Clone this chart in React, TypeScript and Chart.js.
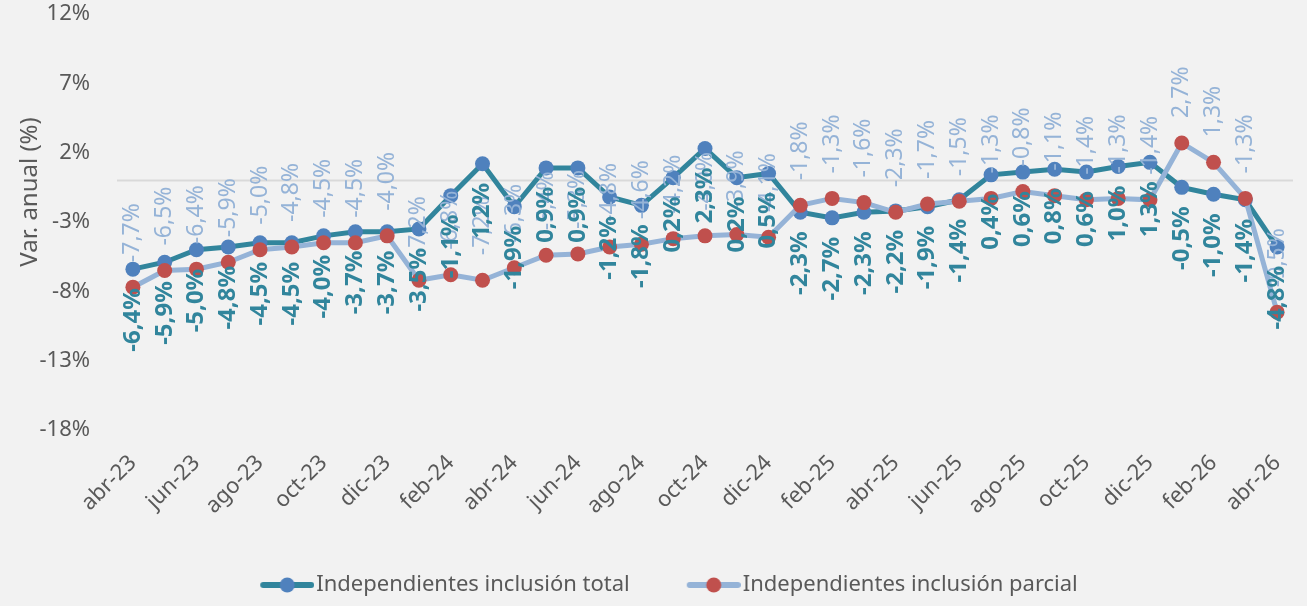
import React, { useEffect, useRef } from "react";
import { Chart, registerables } from "chart.js";

Chart.register(...registerables);

const months = [
  "abr-23", "may-23", "jun-23", "jul-23", "ago-23", "sep-23", "oct-23", "nov-23", "dic-23",
  "ene-24", "feb-24", "mar-24", "abr-24", "may-24", "jun-24", "jul-24", "ago-24", "sep-24", "oct-24", "nov-24", "dic-24",
  "ene-25", "feb-25", "mar-25", "abr-25", "may-25", "jun-25", "jul-25", "ago-25", "sep-25", "oct-25", "nov-25", "dic-25",
  "ene-26", "feb-26", "mar-26", "abr-26",
];

const totalValues = [
  -6.4, -5.9, -5.0, -4.8, -4.5, -4.5, -4.0, -3.7, -3.7,
  -3.5, -1.1, 1.2, -1.9, 0.9, 0.9, -1.2, -1.8, 0.2, 2.3, 0.2, 0.5,
  -2.3, -2.7, -2.3, -2.2, -1.9, -1.4, 0.4, 0.6, 0.8, 0.6, 1.0, 1.3,
  -0.5, -1.0, -1.4, -4.8,
];

const parcialValues = [
  -7.7, -6.5, -6.4, -5.9, -5.0, -4.8, -4.5, -4.5, -4.0,
  -7.2, -6.8, -7.2, -6.3, -5.4, -5.3, -4.8, -4.6, -4.2, -4.0, -3.9, -4.1,
  -1.8, -1.3, -1.6, -2.3, -1.7, -1.5, -1.3, -0.8, -1.1, -1.4, -1.3, -1.4,
  2.7, 1.3, -1.3, -9.5,
];

const yTickValues = [-18, -13, -8, -3, 2, 7, 12];
const yTitle = "Var. anual (%)";
const seriesNames = ["Independientes inclusión total", "Independientes inclusión parcial"];

const FONT = "'Noto Sans', sans-serif";
const GREY = "#595959";
const TEAL = "#31859C";
const BLUE_MARK = "#4F81BD";
const LIGHT = "#95B3D7";
const RED_MARK = "#C0504D";

const fmt = (v: number) => v.toFixed(1).replace(".", ",") + "%";

function legendImage(lineColor: string, markerColor: string, w: number) {
  const c = document.createElement("canvas");
  c.width = w;
  c.height = 18;
  const g = c.getContext("2d")!;
  const x0 = w - 54;
  g.strokeStyle = lineColor;
  g.lineWidth = 6;
  g.lineCap = "round";
  g.beginPath();
  g.moveTo(x0 + 3, 9);
  g.lineTo(w - 3, 9);
  g.stroke();
  g.fillStyle = markerColor;
  g.beginPath();
  g.arc(x0 + 27, 9, 7.5, 0, Math.PI * 2);
  g.fill();
  return c;
}

const zeroLinePlugin = {
  id: "zeroLine",
  beforeDatasetsDraw(chart: any) {
    const { ctx, chartArea, scales } = chart;
    const y = scales.y.getPixelForValue(0);
    ctx.save();
    ctx.strokeStyle = "#D9D9D9";
    ctx.lineWidth = 2;
    ctx.beginPath();
    ctx.moveTo(chartArea.left, y);
    ctx.lineTo(chartArea.right, y);
    ctx.stroke();
    ctx.restore();
  },
};

const yTitlePlugin = {
  id: "yTitleText",
  afterDraw(chart: any) {
    const ctx = chart.ctx;
    ctx.save();
    ctx.translate(30, 192);
    ctx.rotate(-Math.PI / 2);
    ctx.font = `24px ${FONT}`;
    ctx.fillStyle = GREY;
    ctx.textAlign = "center";
    ctx.textBaseline = "middle";
    ctx.fillText(yTitle, 0, 0);
    ctx.restore();
  },
};

const labelCfg = [
  { below: true, gap: 19, font: `bold 24px ${FONT}`, color: TEAL },
  { below: false, gap: 25, font: `23px ${FONT}`, color: LIGHT },
];

const rotatedLabelsPlugin = {
  id: "rotLabels",
  afterDatasetsDraw(chart: any) {
    const ctx = chart.ctx;
    [1, 0].forEach((di) => {
      const meta = chart.getDatasetMeta(di);
      const cfg = labelCfg[di];
      const data = chart.data.datasets[di].data as number[];
      meta.data.forEach((pt: any, i: number) => {
        ctx.save();
        ctx.translate(pt.x, pt.y + (cfg.below ? cfg.gap : -cfg.gap));
        ctx.rotate(-Math.PI / 2);
        ctx.font = cfg.font;
        ctx.fillStyle = cfg.color;
        ctx.textAlign = cfg.below ? "right" : "left";
        ctx.textBaseline = "middle";
        ctx.fillText(fmt(data[i]), 0, 0);
        ctx.restore();
      });
    });
  },
};

export default function App() {
  const ref = useRef<HTMLCanvasElement>(null);

  useEffect(() => {
    if (!ref.current) return;
    const W = 90;
    const imgs = [legendImage(TEAL, BLUE_MARK, W + 18), legendImage(LIGHT, RED_MARK, W + 18)];
    const chart = new Chart(ref.current, {
      type: "line",
      data: {
        labels: months,
        datasets: [
          {
            label: seriesNames[0],
            data: totalValues,
            borderColor: TEAL,
            backgroundColor: BLUE_MARK,
            pointBackgroundColor: BLUE_MARK,
            pointBorderColor: BLUE_MARK,
            borderWidth: 5,
            pointRadius: 7.5,
            pointBorderWidth: 0,
            tension: 0,
            order: 2,
          },
          {
            label: seriesNames[1],
            data: parcialValues,
            borderColor: LIGHT,
            backgroundColor: RED_MARK,
            pointBackgroundColor: RED_MARK,
            pointBorderColor: RED_MARK,
            borderWidth: 5,
            pointRadius: 7.5,
            pointBorderWidth: 0,
            tension: 0,
            order: 1,
          },
        ],
      },
      options: {
        animation: false,
        responsive: false,
        devicePixelRatio: 1,
        layout: { padding: { top: 14, right: 14, left: 0, bottom: 0 } },
        plugins: {
          tooltip: { enabled: false },
          legend: {
            position: "bottom",
            labels: {
              usePointStyle: true,
              pointStyleWidth: W,
              padding: 12,
              color: GREY,
              font: { family: FONT, size: 22 },
              generateLabels: (c: any) =>
                c.data.datasets.map((ds: any, i: number) => ({
                  text: ds.label,
                  pointStyle: imgs[i],
                  fillStyle: "transparent",
                  strokeStyle: "transparent",
                  lineWidth: 0,
                  hidden: false,
                  datasetIndex: i,
                  fontColor: GREY,
                })),
            },
          },
        },
        scales: {
          x: {
            offset: true,
            grid: { display: false, drawTicks: false },
            border: { display: false },
            ticks: {
              autoSkip: false,
              maxRotation: 45,
              minRotation: 45,
              padding: 20,
              color: GREY,
              font: { family: FONT, size: 22 },
              callback: (_v: any, i: number) => (i % 2 === 0 ? months[i] : ""),
            },
            afterFit: (s: any) => {
              s.height = 132;
              s.paddingLeft = 0;
              s.paddingRight = 0;
              s.paddingTop = 0;
              s.paddingBottom = 0;
            },
          },
          y: {
            min: -18,
            max: 12,
            grid: { display: false, drawTicks: false },
            border: { display: false },
            ticks: {
              padding: 27,
              color: GREY,
              font: { family: FONT, size: 22 },
              callback: (v: any) => `${v}%`,
            },
            afterBuildTicks: (s: any) => {
              s.ticks = yTickValues.map((v) => ({ value: v }));
            },
            afterFit: (s: any) => {
              s.width = 117;
              s.paddingTop = 0;
              s.paddingBottom = 0;
              s.paddingLeft = 0;
              s.paddingRight = 0;
            },
          },
        },
      },
      plugins: [zeroLinePlugin, rotatedLabelsPlugin, yTitlePlugin],
    });
    return () => chart.destroy();
  }, []);

  return (
    <div style={{ position: "fixed", left: 0, top: 0, width: 1307, height: 606, background: "#F2F2F2" }}>
      <canvas ref={ref} width={1307} height={606} style={{ display: "block" }} />
    </div>
  );
}
